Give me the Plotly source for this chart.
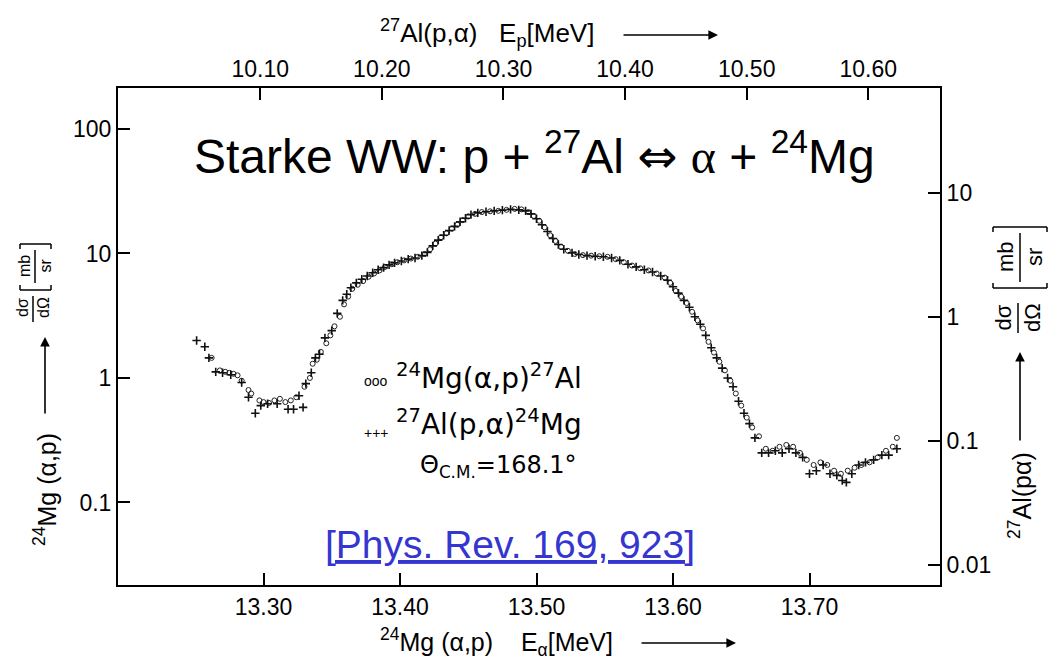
import plotly.graph_objects as go

# ---------------- data ----------------
# 24Mg(alpha,p)27Al  (open circles), E_alpha [MeV], dsigma/dOmega [mb/sr] (left axis units)
e_alpha_circ = [13.262, 13.268, 13.272, 13.275, 13.278, 13.281, 13.284, 13.289, 13.291, 13.297,
                13.300, 13.304, 13.308, 13.312, 13.316, 13.320, 13.324, 13.330, 13.334, 13.336,
                13.339, 13.342, 13.346, 13.349, 13.352, 13.356, 13.359, 13.362, 13.365, 13.369,
                13.373, 13.377, 13.381, 13.385, 13.389, 13.394, 13.398, 13.403, 13.408, 13.413,
                13.418, 13.422, 13.426, 13.430, 13.434, 13.438, 13.442, 13.446, 13.450, 13.455,
                13.460, 13.466, 13.472, 13.478, 13.484, 13.489, 13.494, 13.498, 13.502, 13.506,
                13.510, 13.514, 13.518, 13.523, 13.528, 13.534, 13.540, 13.546, 13.552, 13.558,
                13.564, 13.570, 13.576, 13.582, 13.588, 13.594, 13.598, 13.602, 13.606, 13.610,
                13.614, 13.618, 13.622, 13.626, 13.630, 13.634, 13.638, 13.642, 13.646, 13.650,
                13.654, 13.658, 13.663, 13.668, 13.673, 13.678, 13.683, 13.688, 13.693, 13.698,
                13.703, 13.708, 13.713, 13.718, 13.723, 13.728, 13.733, 13.738, 13.744, 13.750,
                13.756, 13.761, 13.764]
sig_circ = [1.45, 1.15, 1.12, 1.10, 1.08, 1.05, 0.95, 0.80, 0.75, 0.66,
            0.64, 0.63, 0.66, 0.68, 0.64, 0.66, 0.70, 0.85, 1.00, 1.30,
            1.40, 1.62, 1.90, 2.20, 2.60, 3.10, 3.90, 4.50, 5.20, 5.60,
            6.00, 6.50, 6.90, 7.30, 7.80, 8.20, 8.50, 8.80, 9.10, 9.40,
            9.90, 10.8, 12.0, 13.5, 14.5, 15.8, 17.0, 18.5, 19.8, 20.8,
            21.5, 21.8, 22.0, 22.4, 22.8, 22.6, 21.5, 20.0, 18.3, 16.2,
            14.0, 12.6, 11.3, 10.5, 9.9, 9.7, 9.6, 9.5, 9.4, 9.0,
            8.5, 8.0, 7.6, 7.3, 6.9, 6.4, 5.8, 5.0, 4.5, 4.0,
            3.4, 2.9, 2.5, 1.95, 1.60, 1.35, 1.15, 0.95, 0.75, 0.60,
            0.48, 0.40, 0.34, 0.27, 0.26, 0.28, 0.29, 0.28, 0.25, 0.22,
            0.20, 0.21, 0.20, 0.18, 0.17, 0.18, 0.19, 0.20, 0.21, 0.23,
            0.26, 0.28, 0.33]

# 27Al(p,alpha)24Mg  (crosses)
e_alpha_cross = [13.251, 13.257, 13.260, 13.265, 13.270, 13.276, 13.284, 13.289, 13.294, 13.298,
                 13.303, 13.310, 13.318, 13.322, 13.326, 13.329, 13.331, 13.335, 13.338, 13.341,
                 13.345, 13.350, 13.354, 13.358, 13.361, 13.364, 13.368, 13.372, 13.376, 13.380,
                 13.384, 13.388, 13.392, 13.396, 13.401, 13.406, 13.411, 13.416, 13.420, 13.424,
                 13.428, 13.432, 13.436, 13.440, 13.444, 13.448, 13.452, 13.457, 13.463, 13.469,
                 13.475, 13.481, 13.487, 13.492, 13.496, 13.500, 13.504, 13.508, 13.512, 13.516,
                 13.520, 13.526, 13.531, 13.537, 13.543, 13.549, 13.555, 13.561, 13.567, 13.573,
                 13.579, 13.585, 13.591, 13.596, 13.600, 13.604, 13.608, 13.612, 13.616, 13.620,
                 13.624, 13.628, 13.632, 13.636, 13.640, 13.644, 13.648, 13.652, 13.656, 13.660,
                 13.665, 13.670, 13.675, 13.680, 13.685, 13.690, 13.695, 13.700, 13.705, 13.710,
                 13.715, 13.720, 13.724, 13.727, 13.731, 13.736, 13.741, 13.747, 13.753, 13.758,
                 13.764]
sig_cross = [2.00, 1.78, 1.45, 1.12, 1.10, 1.06, 0.92, 0.70, 0.52, 0.60,
             0.62, 0.62, 0.56, 0.56, 0.72, 0.58, 0.90, 1.10, 1.45, 1.55,
             2.10, 2.40, 3.30, 4.20, 4.70, 5.30, 5.80, 6.20, 6.60, 7.00,
             7.40, 7.70, 8.10, 8.40, 8.70, 9.00, 9.20, 9.60, 10.2, 11.5,
             12.8, 14.0, 15.3, 16.5, 18.0, 19.2, 20.5, 21.2, 21.6, 22.0,
             22.3, 22.6, 22.4, 22.0, 20.8, 19.0, 17.0, 15.0, 13.2, 11.8,
             10.8, 10.1, 9.8, 9.6, 9.5, 9.4, 9.2, 8.8, 8.2, 7.8,
             7.4, 7.1, 6.6, 6.1, 5.4, 4.8, 4.2, 3.7, 3.1, 2.7,
             2.2, 1.75, 1.45, 1.20, 1.00, 0.85, 0.65, 0.52, 0.43, 0.33,
             0.25, 0.25, 0.26, 0.25, 0.27, 0.25, 0.23, 0.17, 0.18, 0.20,
             0.17, 0.165, 0.15, 0.145, 0.17, 0.20, 0.21, 0.22, 0.24, 0.24,
             0.27]

bottom_tickvals = [13.30, 13.40, 13.50, 13.60, 13.70]
bottom_ticktext = ["13.30", "13.40", "13.50", "13.60", "13.70"]
top_tickvals = [10.10, 10.20, 10.30, 10.40, 10.50, 10.60]
top_ticktext = ["10.10", "10.20", "10.30", "10.40", "10.50", "10.60"]
left_tickvals = [0.1, 1, 10, 100]
left_ticktext = ["0.1", "1", "10", "100"]
right_tickvals = [0.01, 0.1, 1, 10]
right_ticktext = ["0.01", "0.1", "1", "10"]

# ---------------- layout helpers ----------------
W, H = 1060, 662
OFF = 8                      # page body margin of the html page
L, R, T, B = 118, 940, 88, 585   # wanted plot-frame position on screen
FONT = "Liberation Sans, Arial, sans-serif"
WIDE = "DejaVu Sans, Liberation Sans, sans-serif"


def px(x):
    return (x - L) / (R - L)


def py(y):
    return (B - y) / (B - T)


fig = go.Figure()
fig.add_trace(go.Scatter(
    x=e_alpha_circ, y=sig_circ, mode="markers", xaxis="x", yaxis="y",
    marker=dict(symbol="circle-open", size=5, color="#222222", line=dict(width=1)),
    showlegend=False, hoverinfo="skip"))
fig.add_trace(go.Scatter(
    x=e_alpha_cross, y=sig_cross, mode="markers", xaxis="x", yaxis="y",
    marker=dict(symbol="cross-thin", size=6, color="#111111", line=dict(width=1.6, color="#111111")),
    showlegend=False, hoverinfo="skip"))
# empty trace so the secondary axes are bound
fig.add_trace(go.Scatter(x=[], y=[], xaxis="x2", yaxis="y2", showlegend=False))

axis_common = dict(showline=True, linecolor="black", linewidth=2, ticks="inside",
                   ticklen=12, tickwidth=1.5, tickcolor="black", showgrid=False,
                   zeroline=False, tickfont=dict(family=FONT, size=23, color="black"))

fig.update_layout(
    width=W, height=H,
    margin=dict(l=L - OFF, r=W + OFF - R, t=T - OFF, b=H + OFF - B),
    paper_bgcolor="white", plot_bgcolor="white", showlegend=False,
    xaxis=dict(range=[13.1934, 13.7956], tickvals=bottom_tickvals, ticktext=bottom_ticktext,
               side="bottom", **axis_common),
    xaxis2=dict(range=[9.983, 10.659], tickvals=top_tickvals, ticktext=top_ticktext,
                side="top", overlaying="x", anchor="y", **axis_common),
    yaxis=dict(type="log", range=[-1.663, 2.329], tickvals=left_tickvals, ticktext=left_ticktext,
               side="left", **axis_common),
    yaxis2=dict(type="log", range=[-2.161, 1.847], tickvals=right_tickvals, ticktext=right_ticktext,
                side="right", overlaying="y", anchor="x", **axis_common),
)

ann = []


def text(x, y, s, size, xanchor="center", angle=0, color="black", family=FONT):
    ann.append(dict(x=px(x), y=py(y), xref="paper", yref="paper", text=s, showarrow=False,
                    xanchor=xanchor, yanchor="middle", textangle=angle,
                    font=dict(family=family, size=size, color=color)))


def arrow(x0, y0, x1, y1):
    ann.append(dict(x=px(x1), y=py(y1), xref="paper", yref="paper", text="",
                    showarrow=True, ax=x0 - x1, ay=y0 - y1, axref="pixel", ayref="pixel",
                    arrowhead=2, arrowsize=1.2, arrowwidth=1.6, arrowcolor="black"))


# big title and reference
text(534, 153,
     "Starke WW: p + <sup>27</sup>Al "
     "<span style='font-family:DejaVu Sans;font-size:48px'>⇔</span> "
     "<span style='font-family:Liberation Serif'>α</span> + <sup>24</sup>Mg", 48)
text(510, 544, "<u>[Phys. Rev. 169, 923]</u>", 39, color="#3535d0")

# in-plot legend
text(376, 381, "ooo", 14)
text(394, 377, "<sup>24</sup>Mg(α,p)<sup>27</sup>Al", 28, xanchor="left", family=WIDE)
text(376, 433, "+++", 14)
text(394, 422, "<sup>27</sup>Al(p,α)<sup>24</sup>Mg", 28, xanchor="left", family=WIDE)
text(418, 466, "Θ<sub>C.M.</sub>=168.1°", 24, xanchor="left", family=WIDE)

# top / bottom axis titles
text(378, 33, "<sup>27</sup>Al(p,α)   E<sub>p</sub>[MeV]", 26, xanchor="left")
arrow(622, 35, 718, 35)
text(378, 642, "<sup>24</sup>Mg (α,p)    E<sub>α</sub>[MeV]", 25, xanchor="left")
arrow(640, 643, 736, 643)

# left axis title
text(45, 490, "<sup>24</sup>Mg (α,p)", 25, angle=-90)
arrow(45, 415, 45, 337)
text(33, 308, "dσ<br>dΩ", 16, angle=-90)
text(35, 266, "mb<br>sr", 16, angle=-90)
# right axis title
text(1020, 496, "<sup>27</sup>Al(pα)", 25, angle=-90)
arrow(1020, 442, 1020, 352)
text(1018, 318, "dσ<br>dΩ", 22, angle=-90)
text(1020, 257, "mb<br>sr", 22, angle=-90)

fig.update_layout(annotations=ann)

# fraction bars and brackets (decoration)
shapes = []


def seg(x0, y0, x1, y1, w=1.5):
    shapes.append(dict(type="line", xref="paper", yref="paper", x0=px(x0), y0=py(y0),
                       x1=px(x1), y1=py(y1), line=dict(color="black", width=w)))


seg(33, 296, 33, 322)
seg(35, 250, 35, 283)
seg(20, 244, 51, 244); seg(20, 244, 20, 249); seg(51, 244, 51, 249)
seg(20, 290, 51, 290); seg(20, 290, 20, 285); seg(51, 290, 51, 285)

seg(1018, 303, 1018, 333)
seg(1020, 233, 1020, 282)
seg(993, 227, 1047, 227); seg(993, 227, 993, 232); seg(1047, 227, 1047, 232)
seg(993, 288, 1047, 288); seg(993, 288, 993, 283); seg(1047, 288, 1047, 283)

fig.update_layout(shapes=shapes)

fig.write_html("out.html")
